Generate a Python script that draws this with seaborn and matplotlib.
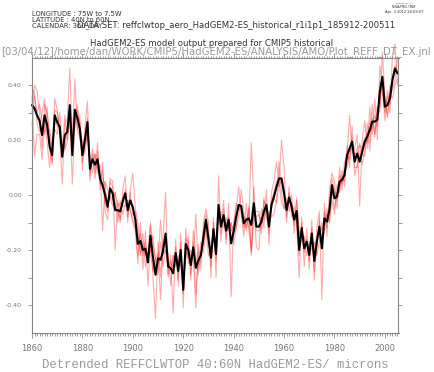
import numpy as np
import pandas as pd
import seaborn as sns
import matplotlib
matplotlib.use("Agg")
import matplotlib.pyplot as plt
from matplotlib.ticker import MultipleLocator, FixedLocator, FormatStrFormatter

# annual values, 1860-2005 (Dec-Nov means)
years = list(range(1860, 2006))

ens_mean = [
    0.327, 0.315, 0.290, 0.270, 0.218, 0.290, 0.255, 0.176, 0.145, 0.290,
    0.265, 0.248, 0.139, 0.218, 0.230, 0.327, 0.145, 0.310, 0.280, 0.240,
    0.145, 0.200, 0.265, 0.095, 0.130, 0.110, 0.130, 0.060, 0.035, 0.000,
    -0.043, 0.024, 0.005, -0.055, -0.055, -0.060, -0.024, 0.006, -0.055, -0.020,
    -0.045, -0.090, -0.178, -0.167, -0.200, -0.195, -0.245, -0.148, -0.227, -0.290,
    -0.230, -0.236, -0.203, -0.140, -0.260, -0.266, -0.285, -0.211, -0.276, -0.200,
    -0.345, -0.178, -0.200, -0.255, -0.190, -0.265, -0.238, -0.219, -0.155, -0.090,
    -0.160, -0.228, -0.124, -0.215, -0.036, -0.115, -0.073, -0.130, -0.090, -0.176,
    -0.133, -0.079, -0.036, -0.040, -0.103, -0.090, -0.085, -0.109, -0.030, -0.115,
    -0.115, -0.097, -0.060, -0.036, -0.115, -0.036, -0.006, 0.030, 0.060, 0.060,
    0.006, -0.055, -0.009, -0.042, -0.090, -0.058, -0.200, -0.120, -0.194, -0.170,
    -0.218, -0.140, -0.240, -0.170, -0.115, -0.194, -0.085, -0.097, -0.055, 0.036,
    -0.012, -0.006, 0.048, 0.055, 0.073, 0.145, 0.170, 0.194, 0.121, 0.151,
    0.121, 0.157, 0.194, 0.212, 0.236, 0.267, 0.267, 0.273, 0.376, 0.430,
    0.321, 0.327, 0.351, 0.418, 0.460, 0.442,
]

member_1 = [
    0.30, 0.40, 0.38, 0.30, 0.17, 0.33, 0.30, 0.22, 0.11, 0.35,
    0.31, 0.21, 0.04, 0.26, 0.28, 0.46, 0.20, 0.42, 0.24, 0.29,
    0.09, 0.25, 0.34, 0.05, 0.17, 0.08, 0.19, 0.02, 0.12, -0.06,
    -0.09, 0.06, 0.05, -0.20, -0.02, -0.10, 0.02, 0.07, -0.10, 0.02,
    0.08, -0.05, -0.10, -0.21, -0.14, -0.26, -0.20, -0.10, -0.30, -0.45,
    -0.17, -0.30, -0.15, 0.01, -0.30, -0.22, -0.43, -0.16, -0.33, -0.14,
    -0.41, -0.12, -0.25, -0.20, -0.24, -0.41, -0.18, -0.27, -0.10, -0.05,
    -0.10, -0.30, -0.08, -0.30, 0.07, -0.14, -0.02, -0.18, -0.03, -0.37,
    -0.10, -0.05, 0.03, -0.07, -0.15, -0.03, -0.12, 0.19, -0.02, -0.19,
    -0.20, -0.05, -0.12, 0.02, -0.18, 0.01, 0.05, 0.12, 0.04, 0.20,
    0.10, -0.10, 0.03, -0.08, -0.04, -0.11, -0.30, -0.08, -0.26, -0.12,
    -0.27, -0.09, -0.31, -0.12, -0.06, -0.38, -0.03, -0.15, 0.02, 0.08,
    0.05, -0.05, 0.10, 0.02, 0.12, 0.15, 0.29, 0.15, 0.17, 0.22,
    -0.04, 0.20, 0.27, 0.17, 0.32, 0.22, 0.35, 0.20, 0.47, 0.40,
    0.27, 0.38, 0.30, 0.51, 0.55, 0.40,
]

member_2 = [
    0.36, 0.14, 0.22, 0.22, 0.13, 0.26, 0.19, 0.10, 0.20, 0.24,
    0.22, 0.30, 0.18, 0.17, 0.19, 0.28, 0.04, 0.27, 0.33, 0.20,
    0.20, 0.15, 0.22, 0.14, 0.08, 0.15, 0.09, 0.11, -0.13, 0.05,
    0.02, -0.01, -0.04, 0.01, -0.10, -0.02, -0.07, -0.03, -0.02, -0.06,
    -0.10, -0.13, -0.25, -0.10, -0.27, -0.13, -0.33, -0.18, -0.15, -0.25,
    -0.29, -0.17, -0.26, -0.20, -0.21, -0.33, -0.22, -0.26, -0.22, -0.26,
    -0.30, -0.23, -0.15, -0.31, -0.13, -0.22, -0.29, -0.17, -0.21, -0.13,
    -0.22, -0.18, -0.17, -0.15, -0.09, -0.06, -0.12, -0.08, -0.13, -0.10,
    -0.18, -0.12, -0.08, 0.02, -0.06, -0.13, -0.04, -0.22, -0.07, -0.06,
    -0.06, -0.14, -0.01, -0.09, -0.06, -0.08, -0.07, -0.02, 0.12, 0.01,
    -0.05, -0.01, -0.06, 0.00, -0.14, -0.02, -0.14, -0.17, -0.15, -0.22,
    -0.17, -0.20, -0.17, -0.22, -0.17, -0.10, -0.14, -0.05, -0.10, -0.02,
    -0.07, 0.04, 0.01, 0.09, 0.03, 0.18, 0.10, 0.25, 0.07, 0.11,
    0.19, 0.11, 0.16, 0.26, 0.19, 0.33, 0.21, 0.32, 0.30, 0.52,
    0.36, 0.29, 0.40, 0.38, 0.42, 0.50,
]

member_3 = [
    0.25, 0.36, 0.30, 0.33, 0.27, 0.22, 0.32, 0.16, 0.12, 0.31,
    0.30, 0.24, 0.16, 0.29, 0.20, 0.30, 0.19, 0.25, 0.31, 0.26,
    0.17, 0.22, 0.28, 0.07, 0.15, 0.06, 0.16, 0.04, 0.09, -0.03,
    -0.06, 0.05, 0.03, -0.04, -0.06, -0.09, -0.01, 0.02, -0.08, 0.01,
    -0.07, -0.06, -0.14, -0.22, -0.17, -0.22, -0.21, -0.20, -0.28, -0.23,
    -0.21, -0.38, -0.18, -0.17, -0.29, -0.24, -0.27, -0.19, -0.31, -0.17,
    -0.36, -0.20, -0.23, -0.22, -0.22, -0.07, -0.27, -0.23, -0.13, -0.07,
    -0.14, -0.26, -0.10, -0.24, -0.05, -0.17, -0.05, -0.16, -0.08, -0.13,
    -0.11, -0.03, -0.05, -0.06, -0.12, -0.08, -0.13, -0.20, 0.03, -0.13,
    -0.13, -0.08, -0.09, -0.03, -0.14, -0.02, 0.01, 0.05, 0.03, 0.06,
    0.02, -0.08, 0.01, -0.06, -0.07, -0.09, -0.22, -0.10, -0.21, -0.16,
    -0.24, -0.12, -0.28, -0.19, -0.09, -0.18, -0.06, -0.12, -0.04, 0.06,
    0.02, -0.02, 0.07, 0.04, 0.09, 0.10, 0.16, 0.17, 0.14, 0.17,
    0.18, 0.17, 0.21, 0.19, 0.27, 0.24, 0.29, 0.25, 0.41, 0.37,
    0.30, 0.36, 0.33, 0.43, 0.47, 0.45,
]

member_4 = [
    0.39, 0.37, 0.26, 0.23, 0.30, 0.35, 0.22, 0.24, 0.17, 0.27,
    0.25, 0.25, 0.18, 0.16, 0.25, 0.28, 0.17, 0.30, 0.24, 0.21,
    0.12, 0.18, 0.22, 0.12, 0.12, 0.15, 0.08, 0.07, 0.06, 0.04,
    -0.04, 0.00, -0.02, 0.01, -0.04, -0.03, -0.04, -0.04, -0.02, -0.05,
    -0.09, -0.12, -0.22, -0.14, -0.22, -0.17, -0.24, -0.11, -0.18, -0.23,
    -0.25, -0.09, -0.22, -0.20, -0.24, -0.27, -0.22, -0.23, -0.24, -0.23,
    -0.31, -0.16, -0.17, -0.29, -0.17, -0.36, -0.21, -0.21, -0.18, -0.11,
    -0.18, -0.17, -0.15, -0.17, -0.07, -0.09, -0.10, -0.10, -0.12, -0.10,
    -0.14, -0.12, -0.04, -0.05, -0.08, -0.12, -0.05, -0.21, -0.06, -0.08,
    -0.07, -0.12, -0.02, -0.04, -0.08, -0.05, -0.01, -0.03, 0.05, -0.03,
    -0.05, -0.03, -0.02, -0.03, -0.11, -0.01, -0.14, -0.13, -0.16, -0.18,
    -0.19, -0.15, -0.20, -0.15, -0.14, -0.12, -0.11, -0.07, -0.10, 0.02,
    -0.05, 0.01, 0.01, 0.07, 0.05, 0.15, 0.13, 0.21, 0.10, 0.10,
    0.15, 0.15, 0.14, 0.23, 0.16, 0.28, 0.22, 0.32, 0.32, 0.43,
    0.35, 0.28, 0.37, 0.35, 0.40, 0.42,
]

y_major = [-0.4, -0.2, 0.0, 0.2, 0.4]
y_minor = [-0.3, -0.1, 0.1, 0.3]

# long table of the ensemble members for seaborn
members = pd.DataFrame({
    "year": years * 4,
    "reff": member_1 + member_2 + member_3 + member_4,
    "member": ["r1"] * len(years) + ["r2"] * len(years) + ["r3"] * len(years) + ["r4"] * len(years),
})

sns.set_style("ticks")
plt.rcParams["font.family"] = ["DejaVu Sans"]
plt.rcParams["axes.unicode_minus"] = False

W, H = 435, 372
fig = plt.figure(figsize=(W / 100, H / 100), dpi=100)
ax = fig.add_axes([32 / W, 1 - 332.5 / H, 366.5 / W, 275 / H])

sns.lineplot(data=members, x="year", y="reff", units="member", estimator=None,
             color="red", alpha=0.33, linewidth=0.8, legend=False, ax=ax)
sns.lineplot(x=years, y=ens_mean, color="black", linewidth=1.5, ax=ax)
for ln in ax.lines:
    ln.set_clip_on(False)

ax.set_xlim(1860, 2005.4)
ax.set_ylim(-0.5, 0.5)
ax.set_xlabel("")
ax.set_ylabel("")

ax.xaxis.set_major_locator(MultipleLocator(20))
ax.xaxis.set_minor_locator(MultipleLocator(1))
ax.yaxis.set_major_locator(FixedLocator(y_major))
ax.yaxis.set_minor_locator(FixedLocator(y_minor))
ax.yaxis.set_major_formatter(FormatStrFormatter("%.2f"))

for sp in ax.spines.values():
    sp.set_visible(True)
    sp.set_color("#888888")
    sp.set_linewidth(0.8)

ax.tick_params(axis="both", which="both", direction="out", top=True, right=True,
               color="#888888", labelcolor="#777777", width=0.6)
ax.tick_params(axis="x", which="major", length=3.5, labelsize=6, pad=5)
ax.tick_params(axis="x", which="minor", length=1.8)
ax.tick_params(axis="y", which="both", length=3, labelsize=4.5, pad=4.3)

# header / footer texts in pixel positions
def px(x, y):
    return x / W, 1 - y / H

renderer = fig.canvas.get_renderer()

def fit(t, width):
    w = t.get_window_extent(renderer).width
    t.set_fontsize(t.get_fontsize() * width / w)

hdr = dict(color="#333333", va="center", ha="left")
t_lon = fig.text(*px(32, 14), "LONGITUDE : 75W to 7.5W", fontsize=5, **hdr)
fit(t_lon, 91)
fs = t_lon.get_fontsize()
fig.text(*px(32, 20), "LATITUDE : 40N to 60N", fontsize=fs, **hdr)
fig.text(*px(32, 26), "CALENDAR: 360_DAY", fontsize=fs, **hdr)
t_ds = fig.text(*px(77, 26), "DATA SET: reffclwtop_aero_HadGEM2-ES_historical_r1i1p1_185912-200511",
                fontsize=5, **hdr)
fit(t_ds, 320)
t_mod = fig.text(*px(211.5, 43), "HadGEM2-ES model output prepared for CMIP5 historical",
                 fontsize=5, color="#333333", va="center", ha="center")
fit(t_mod, 243)
t_path = fig.text(*px(1, 52), "[03/04/12]/home/dan/WORK/CMIP5/HadGEM2-ES/ANALYSIS/AMO/Plot_REFF_DT_EX.jnl",
                  fontsize=7, color="#999999", va="center", ha="left")
fit(t_path, 432)

for yy, s, w in [(3, "FERRET Ver. 6.1", 17), (7.5, "NOAA/PMEL TMAP", 23), (12, "Apr  3 2012 18:09:07", 38)]:
    t = fig.text(*px(404, yy), s, fontsize=3, color="#333333", va="center", ha="center")
    fit(t, w)

t_xl = fig.text(*px(215, 365), "Detrended REFFCLWTOP 40:60N HadGEM2-ES/ microns",
                fontsize=8.5, family="Liberation Mono", color="#999999", va="center", ha="center")
fit(t_xl, 342)

fig.savefig("out.png", dpi=100, facecolor="white")
